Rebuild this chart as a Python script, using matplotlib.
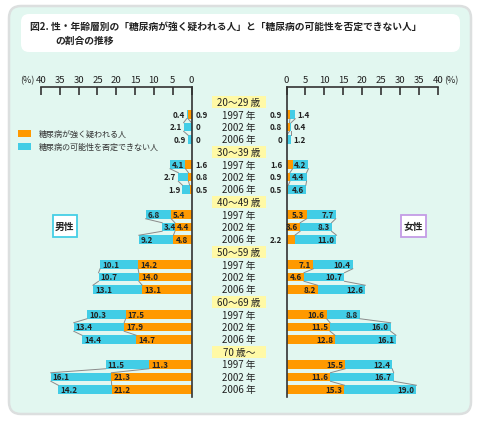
import matplotlib
matplotlib.use("Agg")
import matplotlib.pyplot as plt
from matplotlib.patches import FancyBboxPatch, Rectangle
import matplotlib.transforms as mtransforms

plt.rcParams['font.family'] = ['Noto Sans CJK JP', 'DejaVu Sans']

ages = ["20～29 歳", "30～39 歳", "40～49 歳", "50～59 歳", "60～69 歳", "70 歳～"]
years = ["1997 年", "2002 年", "2006 年"]
male_strong = [0.9, 0, 0, 1.6, 0.8, 0.5, 5.4, 4.4, 4.8, 14.2, 14.0, 13.1,
               17.5, 17.9, 14.7, 11.3, 21.3, 21.2]
male_possible = [0.4, 2.1, 0.9, 4.1, 2.7, 1.9, 6.8, 3.4, 9.2, 10.1, 10.7, 13.1,
                 10.3, 13.4, 14.4, 11.5, 16.1, 14.2]
female_strong = [0.9, 0.8, 0, 1.6, 0.9, 0.5, 5.3, 3.6, 2.2, 7.1, 4.6, 8.2,
                 10.6, 11.5, 12.8, 15.5, 11.6, 15.3]
female_possible = [1.4, 0.4, 1.2, 4.2, 4.4, 4.6, 7.7, 8.3, 11.0, 10.4, 10.7, 12.6,
                   8.8, 16.0, 16.1, 12.4, 16.7, 19.0]
ticks = [0, 5, 10, 15, 20, 25, 30, 35, 40]
legend_labels = ["糖尿病が強く疑われる人", "糖尿病の可能性を否定できない人"]
title1 = "図2. 性・年齢層別の「糖尿病が強く疑われる人」と「糖尿病の可能性を否定できない人」"
title2 = "の割合の推移"

ORANGE = "#ff9900"
BLUE = "#42cde6"
BG = "#e2f7f0"
W, H = 480, 427

fig = plt.figure(figsize=(W / 100, H / 100), dpi=100)
bg = fig.add_axes([0, 0, 1, 1])
bg.set_xlim(0, W)
bg.set_ylim(H, 0)
bg.axis("off")

# outer panel
bg.add_patch(FancyBboxPatch((9, 7), 462, 408, boxstyle="round,pad=0,rounding_size=12",
                            fc=BG, ec="#dcdfdf", lw=1.8))
# title box
bg.add_patch(FancyBboxPatch((21, 15), 439, 38, boxstyle="round,pad=0,rounding_size=8",
                            fc="white", ec="none"))
bg.text(30, 27, title1, fontsize=7.05, fontweight="bold", va="center", ha="left", color="#222")
bg.text(55, 41, title2, fontsize=7.05, fontweight="bold", va="center", ha="left", color="#222")

# legend
bg.add_patch(Rectangle((18, 131), 13, 7, fc=ORANGE, ec="none"))
bg.add_patch(Rectangle((18, 144), 13, 7, fc=BLUE, ec="none"))
bg.text(39, 134.5, legend_labels[0], fontsize=5.8, va="center", ha="left", color="#333")
bg.text(39, 147.5, legend_labels[1], fontsize=5.8, va="center", ha="left", color="#333")

# gender boxes
bg.add_patch(Rectangle((52.5, 216), 24.5, 21.5, fc="white", ec="#45cfe6", lw=1.3))
bg.text(64.75, 227, "男性", fontsize=7, fontweight="bold", ha="center", va="center", color="#222")
bg.add_patch(Rectangle((401, 216), 24.5, 21.5, fc="white", ec="#c49ce6", lw=1.3))
bg.text(413.25, 227, "女性", fontsize=7, fontweight="bold", ha="center", va="center", color="#222")

# bar axes
top_px, bot_px = 88, 398
k0_px, pitch = 103, 12.5
ylo = (bot_px - k0_px) / pitch
yhi = (top_px - k0_px) / pitch
axL = fig.add_axes([41 / W, 1 - bot_px / H, 150.5 / W, (bot_px - top_px) / H])
axR = fig.add_axes([286.5 / W, 1 - bot_px / H, 151.5 / W, (bot_px - top_px) / H])
axL.set_xlim(40, 0)
axR.set_xlim(0, 40)
for ax, side in ((axL, "right"), (axR, "left")):
    ax.set_ylim(ylo, yhi)
    ax.patch.set_alpha(0)
    for s in ("left", "right", "bottom"):
        ax.spines[s].set_visible(s == side)
    for s in ("top", side):
        ax.spines[s].set_color("#333")
        ax.spines[s].set_linewidth(1.2)
    ax.set_yticks([])
    ax.xaxis.tick_top()
    ax.set_xticks(ticks)
    ax.set_xticklabels([str(t) for t in ticks])
    ax.tick_params(axis="x", direction="in", length=6, width=1.2, color="#333",
                   labelsize=6.9, pad=2, labelcolor="#222")

bg.text(34.5, 80.5, "(%)", fontsize=6.5, ha="right", va="center", color="#222")
bg.text(444, 80.5, "(%)", fontsize=6.5, ha="left", va="center", color="#222")

ypos = [g * 4 + j + 1 for g in range(len(ages)) for j in range(len(years))]
bh = 0.68


def fmt(v):
    return "0" if v == 0 else f"{v:.1f}"


for ax, strong, poss, sgn in ((axL, male_strong, male_possible, -1),
                              (axR, female_strong, female_possible, 1)):
    ax.barh(ypos, strong, height=bh, color=ORANGE, edgecolor="none")
    ax.barh(ypos, poss, left=strong, height=bh, color=BLUE, edgecolor="none")
    # connector lines
    for g in range(len(ages)):
        for j in range(len(years) - 1):
            i = g * 3 + j
            for a, b in ((strong[i], strong[i + 1]),
                         (strong[i] + poss[i], strong[i + 1] + poss[i + 1])):
                ax.plot([a, b], [ypos[i] + bh / 2, ypos[i + 1] - bh / 2],
                        color="#8a8a8a", lw=0.7, zorder=1)
    # value labels
    for i, y in enumerate(ypos):
        o, b = strong[i], poss[i]
        kw = dict(fontsize=5.8, va="center", color="#222", fontweight="bold",
                  textcoords="offset points", annotation_clip=False)
        # orange
        if o >= 3:
            ax.annotate(fmt(o), xy=(o, y), xytext=(-sgn * 1.5, 0),
                        ha="right" if sgn > 0 else "left", **kw)
        else:
            ax.annotate(fmt(o), xy=(0, y), xytext=(-sgn * 3, 0),
                        ha="right" if sgn > 0 else "left", **kw)
        # blue
        end = o + b
        if b >= 3:
            ax.annotate(fmt(b), xy=(end, y), xytext=(-sgn * 1.5, 0),
                        ha="right" if sgn > 0 else "left", **kw)
        else:
            ax.annotate(fmt(b), xy=(end, y), xytext=(sgn * 1.5, 0),
                        ha="left" if sgn > 0 else "right", **kw)

# centre labels (x in background px, y in bar-axis rows)
trans = mtransforms.blended_transform_factory(bg.transData, axR.transData)
for g, age in enumerate(ages):
    k = g * 4
    bg.add_patch(Rectangle((212, k - 0.48), 54, 0.96, transform=trans,
                           fc="#fff9a6", ec="none"))
    bg.text(239, k, age, transform=trans, fontsize=7, ha="center", va="center", color="#222")
    for j, yr in enumerate(years):
        bg.text(239, k + j + 1, yr, transform=trans, fontsize=7, ha="center",
                va="center", color="#222")

fig.savefig("out.png", dpi=100)
